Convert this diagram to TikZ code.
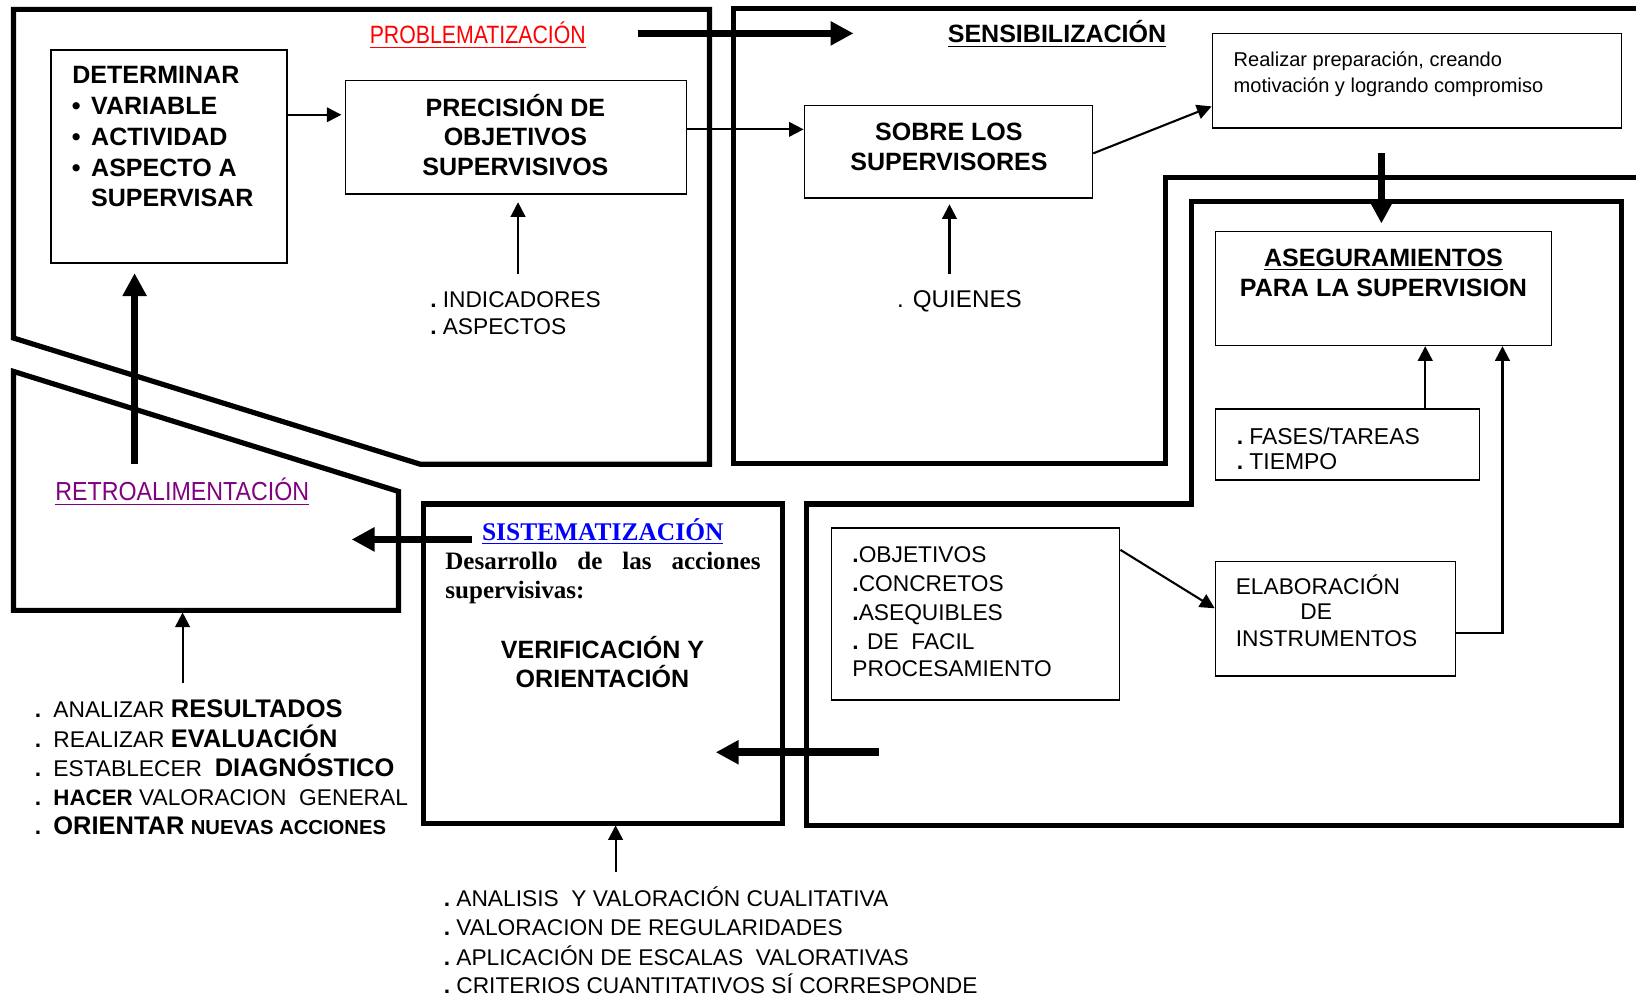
\documentclass[tikz,border=0pt]{standalone}
\usepackage{fontspec}
\setmainfont{Liberation Sans}
\newfontfamily\narrowf[FakeStretch=0.85]{Liberation Sans}
\newfontfamily\narrowg[FakeStretch=0.89]{Liberation Sans}
\newfontfamily\timesf{Liberation Serif}
\usetikzlibrary{arrows.meta,calc}
\definecolor{probred}{HTML}{FF0000}
\definecolor{retropurple}{HTML}{800080}
\definecolor{sistblue}{HTML}{0000FF}
\tikzset{
  frame/.style={line width=2.5pt, line join=miter},
  box/.style={draw, line width=0.8pt, inner sep=0pt},
  txt/.style={inner sep=0pt, anchor=base west},
  ctxt/.style={inner sep=0pt, anchor=base},
  bfb/.style={font=\fontsize{12}{14}\selectfont\bfseries},
  rg/.style={font=\fontsize{10.9}{13}\selectfont},
  thinarr/.style={line width=1pt, -{Triangle[length=7pt,width=7pt]}},
  thickarr/.style={line width=3.7pt, -{Triangle[length=11pt,width=11pt]}}
}
\newcommand{\bdot}{\makebox[6pt][l]{\bfseries .}}
\newcommand{\ldot}{\makebox[8.9pt][l]{\bfseries .}}
\begin{document}
\begin{tikzpicture}[x=0.5pt,y=-0.5pt]
\useasboundingbox (0,0) rectangle (1568,957);
% ---------- frames ----------
\draw[frame] (13,9) -- (680,9) -- (680,445) -- (403,445) -- (13,324) -- cycle;
\draw[frame] (1575,8) -- (703,8) -- (703,444) -- (1117,444) -- (1117,170) -- (1575,170);
\draw[frame] (1142,193) -- (1554,193) -- (1554,791) -- (773,791) -- (773,483) -- (1142,483) -- cycle;
\draw[frame] (13,356) -- (382,471) -- (382,585) -- (13,585) -- cycle;
\draw[frame] (406,483) rectangle (750,789);
% ---------- boxes ----------
\node[box, minimum width=113pt, minimum height=102pt] (det) at (162,150) {};
\node[box, minimum width=163.5pt, minimum height=54.5pt] (prec) at (494.5,131.5) {};
\node[box, minimum width=138pt, minimum height=44.5pt] (sobre) at (909,145.5) {};
\node[box, minimum width=196pt, minimum height=45.5pt] (real) at (1358,77.5) {};
\node[box, minimum width=161pt, minimum height=54.5pt] (aseg) at (1326,276.5) {};
\node[box, minimum width=126.5pt, minimum height=34pt] (fases) at (1291.5,426) {};
\node[box, minimum width=138pt, minimum height=82.5pt] (obj) at (935,588.5) {};
\node[box, minimum width=115pt, minimum height=55pt] (elab) at (1280,593) {};
% ---------- headings ----------
\node[txt, font=\fontsize{12}{14}\narrowf, text=probred] (probl) at (354,42) {\underline{PROBLEMATIZACIÓN}};
\node[txt, bfb] (sens) at (908,41) {\underline{SENSIBILIZACIÓN}};
\node[txt, font=\fontsize{12.5}{14}\narrowg, text=retropurple] (retro) at (52.7,480) {\underline{RETROALIMENTACIÓN}};
\node[txt, font=\fontsize{12.2}{14}\timesf\bfseries, text=sistblue] (sist) at (461.6,518) {\underline{SISTEMATIZACIÓN}};
% ---------- DETERMINAR ----------
\node[txt, bfb] (d0) at (69,80.3) {DETERMINAR};
\node[txt, bfb] (d1b) at (68.5,109.8) {•};
\node[txt, bfb] (d1) at (87,109.8) {VARIABLE};
\node[txt, bfb] (d2b) at (68.5,139.3) {•};
\node[txt, bfb] (d2) at (87,139.3) {ACTIVIDAD};
\node[txt, bfb] (d3b) at (68.5,168.8) {•};
\node[txt, bfb] (d3) at (87,168.8) {ASPECTO A};
\node[txt, bfb] (d4) at (87,197.8) {SUPERVISAR};
% ---------- PRECISION ----------
\node[ctxt, bfb] (p1) at (494,111.7) {PRECISIÓN DE};
\node[ctxt, bfb] (p2) at (494,139.8) {OBJETIVOS};
\node[ctxt, bfb] (p3) at (494,167.8) {SUPERVISIVOS};
% ---------- SOBRE ----------
\node[ctxt, bfb] (s1) at (909.5,135) {SOBRE LOS};
\node[ctxt, bfb] (s2) at (909.5,163) {SUPERVISORES};
% ---------- Realizar ----------
\node[txt, font=\fontsize{9.6}{12}\selectfont] (r1) at (1182,63.7) {Realizar preparación, creando};
\node[txt, font=\fontsize{9.6}{12}\selectfont] (r2) at (1182,88.6) {motivación y logrando compromiso};
% ---------- ASEGURAMIENTOS ----------
\node[ctxt, bfb] (a1) at (1326,255.5) {\underline{ASEGURAMIENTOS}};
\node[ctxt, bfb] (a2) at (1326,284.3) {PARA LA SUPERVISION};
% ---------- FASES ----------
\node[txt, font=\fontsize{11}{13}\selectfont] (f1) at (1185,426) {\bdot FASES/TAREAS};
\node[txt, font=\fontsize{11}{13}\selectfont] (f2) at (1185,450) {\bdot TIEMPO};
% ---------- INDICADORES / QUIENES ----------
\node[txt, rg] (i1) at (412,295) {\bdot INDICADORES};
\node[txt, rg] (i2) at (412,320.5) {\bdot ASPECTOS};
\node[txt, font=\fontsize{11.6}{13}\selectfont] (q1) at (859.5,295) {. QUIENES};
% ---------- OBJETIVOS ----------
\node[txt, rg] (o1) at (816.6,539) {{\bfseries .}OBJETIVOS};
\node[txt, rg] (o2) at (816.6,566.5) {{\bfseries .}CONCRETOS};
\node[txt, rg] (o3) at (816.6,594.5) {{\bfseries .}ASEQUIBLES};
\node[txt, rg] (o4) at (816.6,622.4) {{\bfseries .} DE~ FACIL};
\node[txt, rg] (o5) at (816.6,647.9) {PROCESAMIENTO};
% ---------- ELABORACION ----------
\node[txt, rg] (e1) at (1184,569.7) {ELABORACIÓN};
\node[txt, rg] (e2) at (1246,593.8) {DE};
\node[txt, rg] (e3) at (1184,619.2) {INSTRUMENTOS};
% ---------- SISTEMATIZACION text ----------
\node[txt, font=\fontsize{12}{14}\timesf\bfseries] (des1) at (426.5,546) {\makebox[151pt][s]{Desarrollo de las acciones}};
\node[txt, font=\fontsize{12}{14}\timesf\bfseries] (des2) at (426.5,573.5) {supervisivas:};
\node[ctxt, bfb] (v1) at (577.4,631.2) {VERIFICACIÓN Y};
\node[ctxt, bfb] (v2) at (577.4,659) {ORIENTACIÓN};
% ---------- bottom-left list ----------
\node[txt, rg] (b1) at (33,688) {\ldot ANALIZAR {\fontsize{12.2}{14}\selectfont\bfseries RESULTADOS}};
\node[txt, rg] (b2) at (33,716) {\ldot REALIZAR {\fontsize{12.2}{14}\selectfont\bfseries EVALUACIÓN}};
\node[txt, rg] (b3) at (33,744) {\ldot ESTABLECER~ {\fontsize{12.2}{14}\selectfont\bfseries DIAGNÓSTICO}};
\node[txt, rg] (b4) at (33,772) {\ldot {\fontsize{10.7}{13}\selectfont\bfseries HACER} VALORACION~ GENERAL};
\node[txt, rg] (b5) at (33,800) {\ldot {\fontsize{12.2}{14}\selectfont\bfseries ORIENTAR} {\fontsize{9.7}{12}\selectfont\bfseries NUEVAS ACCIONES}};
% ---------- bottom-centre list ----------
\node[txt, rg] (c1) at (425,869) {\bdot ANALISIS~ Y VALORACIÓN CUALITATIVA};
\node[txt, rg] (c2) at (425,897) {\bdot VALORACION DE REGULARIDADES};
\node[txt, rg] (c3) at (425,925) {\bdot APLICACIÓN DE ESCALAS~ VALORATIVAS};
\node[txt, rg] (c4) at (425,952.5) {\bdot CRITERIOS CUANTITATIVOS SÍ CORRESPONDE};
% ---------- free ends ----------
\coordinate (probarr) at (611,32);
\coordinate (senstip) at (818,32);
\coordinate (indtop) at (496.5,263);
\coordinate (quitop) at (910,263);
\coordinate (downtop) at (1324,147);
\coordinate (rightstart) at (842,721);
\coordinate (sisttip) at (686,721);
\coordinate (sistarr) at (452,517);
\coordinate (retrotip) at (337,517);
\coordinate (uparr) at (129,445);
\coordinate (retrolist) at (175,655);
\coordinate (sistlist) at (590,836);
% ---------- connectors ----------
\draw[thickarr] (probarr) -- (senstip);
\draw[thinarr, shorten >=1.5pt] (det.east |- 0,110) -- (prec.west |- 0,110);
\draw[thinarr] (prec.east |- 0,124) -- (sobre.west |- 0,124);
\draw[thinarr] (sobre.east |- 0,147) -- (real.west |- 0,102);
\draw[thinarr, shorten >=3.5pt] (indtop) -- (indtop |- prec.south);
\draw[thinarr, shorten >=2.5pt] (quitop) -- (quitop |- sobre.south);
\draw[thickarr, shorten >=3.5pt] (downtop) -- (downtop |- aseg.north);
\draw[thinarr] (fases.north -| 1366,0) -- (aseg.south -| 1366,0);
\draw[thinarr] (elab.east |- 0,607) -| (aseg.south -| 1440,0);
\draw[thinarr] (obj.east |- 0,527) -- (elab.west |- 0,583);
\draw[thickarr] (rightstart) -- (sisttip);
\draw[thickarr] (sistarr) -- (retrotip);
\draw[thickarr, shorten >=4.5pt] (uparr) -- (uparr |- det.south);
\draw[thinarr] (retrolist) -- (175,587);
\draw[thinarr] (sistlist) -- (590,791);
\end{tikzpicture}
\end{document}
